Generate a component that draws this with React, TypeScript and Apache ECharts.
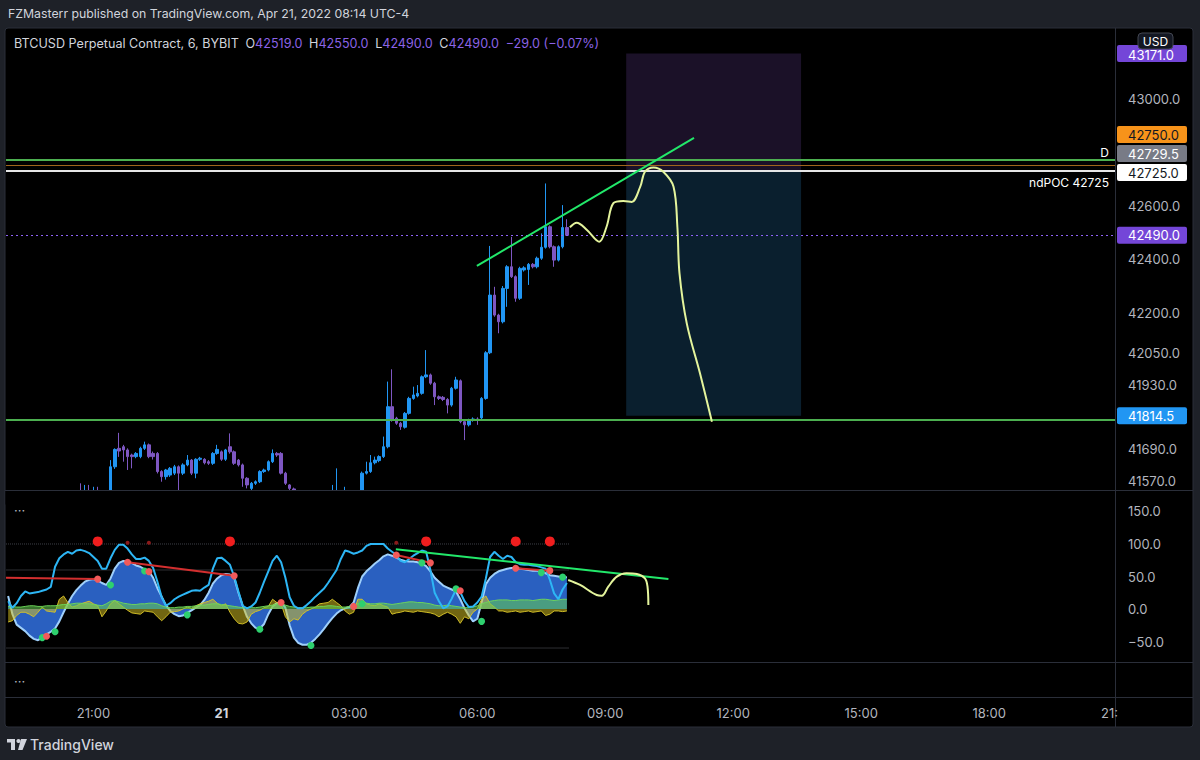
import React, { useEffect, useRef } from "react";
import * as echarts from "echarts";

const FONT = 'Inter, "Noto Sans", sans-serif';
const BG = "#1e2128";
const UP = "#2196f3";
const DOWN = "#7e57c2";
const TEXT = "#d1d4dc";
const AXIS_TEXT = "#b2b5be";
const SEP = "#2a2e39";

// ---- time axis ----
const categoryCount = 260;
const startMinutes = 19 * 60;
const stepMinutes = 6;
const timeTickIndex = [20, 50, 80, 110, 140, 170, 200, 230];
const timeTickLabels = ["21:00", "21", "03:00", "06:00", "09:00", "12:00", "15:00", "18:00"];

// ---- price axis ----
const priceMin = 41536;
const priceMax = 43255;
const priceTicks = [43000, 42600, 42400, 42200, 42050, 41930, 41690, 41570];
const oscMin = -81.5;
const oscMax = 181.5;
const oscTicks = [150, 100, 50, 0, -50];

// ---- candles (first index = candleStart) ----
const candleStart = 17;
const opens = [41515,41508,41520,41512,41518,41510,41505,41520,41623,41692,41698,41686,41667,41661,41661,41692,41705,41673,41673,41605,41586,41592,41599,41623,41599,41630,41648,41599,41651,41651,41642,41636,41673,41679,41651,41698,41679,41648,41630,41580,41542,41561,41567,41605,41611,41642,41673,41673,41599,41555,41540,41525,41515,41505,41500,41495,41500,41505,41510,41515,41520,41525,41515,41520,41510,41515,41522,41599,41605,41638,41646,41661,41698,41848,41805,41786,41771,41823,41879,41888,41898,41960,41967,41936,41885,41883,41875,41854,41917,41945,41792,41780,41798,41802,41806,41879,42050,42266,42191,42166,42291,42372,42335,42254,42360,42362,42381,42372,42404,42445,42522,42447,42397,42447,42519];
const closes = [41508,41520,41512,41518,41510,41505,41520,41623,41688,41682,41686,41661,41661,41673,41692,41705,41661,41661,41605,41586,41611,41617,41623,41599,41630,41648,41599,41651,41655,41638,41636,41673,41688,41651,41686,41679,41636,41630,41580,41555,41561,41567,41605,41611,41642,41673,41667,41599,41561,41542,41525,41515,41505,41500,41495,41500,41505,41510,41515,41520,41525,41515,41520,41510,41515,41522,41599,41605,41638,41648,41661,41698,41848,41798,41786,41773,41823,41879,41892,41898,41960,41967,41936,41885,41879,41875,41854,41917,41948,41792,41780,41798,41802,41798,41879,42050,42266,42191,42166,42291,42372,42335,42254,42366,42368,42381,42372,42404,42445,42522,42447,42397,42447,42519,42490];
const lows = [41495,41500,41500,41505,41498,41490,41495,41515,41615,41660,41642,41611,41617,41655,41655,41686,41655,41650,41598,41567,41575,41585,41592,41536,41592,41625,41592,41580,41645,41632,41630,41630,41668,41645,41645,41672,41630,41624,41548,41542,41536,41555,41562,41600,41606,41637,41660,41594,41555,41520,41510,41500,41490,41485,41480,41482,41490,41495,41500,41505,41510,41505,41505,41500,41500,41505,41515,41594,41600,41632,41640,41656,41692,41792,41780,41761,41766,41818,41874,41883,41893,41955,41930,41854,41873,41869,41823,41848,41912,41786,41723,41774,41792,41780,41800,41874,42045,42185,42123,42160,42222,42330,42241,42248,42354,42304,42366,42366,42398,42440,42441,42372,42392,42441,42490];
const highs = [41561,41555,41555,41548,41548,41525,41530,41648,41692,41750,41705,41692,41672,41678,41698,41717,41710,41680,41678,41610,41615,41622,41630,41628,41636,41667,41652,41655,41660,41655,41648,41678,41705,41684,41690,41748,41684,41652,41635,41584,41566,41572,41610,41616,41647,41688,41678,41678,41604,41558,41545,41530,41520,41512,41508,41510,41515,41520,41530,41555,41617,41532,41548,41530,41528,41534,41605,41642,41667,41661,41666,41736,41942,41988,41810,41791,41828,41885,41923,41929,41965,42060,41972,41941,41890,41888,41880,41922,41960,41950,41797,41803,41808,41808,41884,42056,42450,42297,42196,42300,42378,42484,42340,42372,42374,42386,42386,42410,42497,42684,42527,42452,42452,42603,42550];

// ---- level lines / drawings in price pane ----
const greenLevels = [42771, 41798];
const orangeLevels = [42753];
const pocLevels = [42730];
const lastPrice = 42490;
const positionStop = 43171;
const positionEntry = 42729.5;
const positionTarget = 41814.5;
const positionFromIdx = 144.9;
const positionToIdx = 185.9;
const trendUp = [[109.9, 42375], [160.8, 42855]];
const projection = [[131.7, 42520], [133.3, 42537], [135.7, 42510], [138.6, 42466], [140.3, 42522], [141.9, 42610], [144.2, 42618], [146.2, 42615], [148.2, 42672], [149.3, 42728], [151.3, 42744], [153.6, 42728], [156.0, 42672], [156.9, 42522], [157.4, 42347], [159.1, 42160], [162.2, 41973], [165.0, 41792]];

// ---- oscillator pane ----
const cyanWave = [12,2,9,20,27,24,25,26,28,30,34,65,78,84,88,85,90,91,89,86,80,74,62,62,78,91,99,99,93,84,77,77,79,74,63,42,18,5,9,15,19,22,25,28,29,28,33,37,62,78,79,74,68,50,27,5,1,4,10,25,42,58,74,82,72,48,18,5,1,1,6,12,19,25,31,40,50,60,77,90,88,85,87,90,97,100,100,100,100,93,88,83,74,72,77,82,86,90,88,60,25,12,1,4,16,30,26,12,3,4,10,19,47,80,88,82,77,82,80,72,69,68,68,67,66,64,62,45,24,15,30,40];
const blueWave = [20,-8,-24,-29,-34,-41,-46,-48,-44,-39,-35,-30,-19,-5,8,20,29,36,42,45,46,44,40,37,47,62,71,74,73,71,67,65,61,58,48,32,19,6,-3,-8,-11,-10,-6,-2,2,6,14,25,39,47,52,54,53,48,25,5,-12,-22,-29,-30,-23,-8,4,9,11,2,-25,-44,-52,-55,-55,-52,-46,-39,-31,-22,-14,-7,-2,1,3,10,32,50,58,64,70,75,81,84,82,79,76,74,73,73,72,70,66,58,48,42,36,33,30,27,15,1,-10,-19,-15,10,38,48,54,58,60,62,63,63,62,61,60,59,59,59,55,52,51,50,49,49];
const flowYellow = [-20,-18,-10,-5,-5,-8,-12,-5,3,-3,-4,-5,15,20,10,3,5,8,10,12,8,5,-12,-3,8,13,8,3,-2,-6,-7,-8,-3,-4,-5,-12,-18,-12,-5,-4,-3,0,3,1,5,8,10,12,15,9,5,8,-5,-15,-22,-23,-20,-8,-4,-2,2,4,15,10,8,-12,-20,-15,-17,-8,-3,0,3,8,9,10,15,10,5,-3,-8,-5,15,15,8,6,5,8,5,3,-8,-6,-5,-3,-4,-5,-3,-4,-5,-6,-8,-12,-8,-5,-8,-12,-22,-12,-15,-5,0,15,20,8,3,-3,-3,-5,-4,-3,-5,-4,-3,-5,-4,-3,-10,-8,-3,-3,-4,-3];
const flowGreen = [4,4,3,3,4,5,5,4,4,5,5,5,6,7,7,8,9,9,8,8,7,6,5,8,12,13,11,9,8,7,7,8,8,9,9,8,5,3,2,2,3,3,4,4,5,6,6,7,8,8,7,6,5,4,3,2,2,2,2,3,4,5,6,8,8,6,4,3,2,2,2,3,3,4,4,5,5,4,3,3,4,6,8,9,9,8,8,9,9,8,7,8,9,10,11,11,10,10,9,8,6,5,5,6,5,4,3,2,2,3,5,8,10,12,13,14,14,14,13,13,14,14,14,13,14,15,15,14,13,14,15,15];
const greenDots = [[8, -44], [11, -35], [24, 37], [32, 58.5], [42, -9], [59, -31], [71, -56], [83, 8], [97, 71], [105, 31], [111, -19], [125, 56], [130, 49]];
const redDots = [[9, -42], [21, 46], [28, 72], [33, 57.5], [53, 51], [64, 10], [81, 4], [91, 83], [99, 71], [106, 28], [119, 62.6], [127, 59]];
const bigRedDots = [[21, 104], [52, 104], [98, 104], [119, 104], [127, 104]];
const smallRedDots = [[28, 102], [33, 102], [91, 102]];
const oscDottedLevels = [100];
const oscSolidLevels = [60, -60];
const oscDataEnd = 131.5;
const oscRedTrends = [
  [[-0.5, 48], [21, 46]],
  [[28, 72], [53, 51]],
  [[91, 83], [99, 71]],
  [[119, 62.6], [127, 59]],
];
const oscGreenTrend = [[90.9, 92], [154.8, 46]];
const oscProjection = [[131.3, 44.6], [134.1, 37], [138, 21.5], [139.2, 20.5], [140.7, 34.4], [142.7, 49.8], [145, 54.9], [147.4, 53.9], [149.3, 47.2], [149.9, 34.4], [150.1, 6.2]];

// ---- axis price labels ----
const priceBoxes = [
  { value: 43171, bg: "#7446d8", fg: "#ffffff" },
  { value: 42750, bg: "#f7931a", fg: "#131722" },
  { value: 42729.5, bg: "#787b86", fg: "#ffffff" },
  { value: 42725, bg: "#ffffff", fg: "#131722" },
  { value: 42490, bg: "#7446d8", fg: "#ffffff" },
  { value: 41814.5, bg: "#2196f3", fg: "#ffffff" },
];

const pad = (n: number) => (n < 10 ? "0" + n : "" + n);
const categories = Array.from({ length: categoryCount }, (_, i) => {
  const m = (startMinutes + i * stepMinutes) % 1440;
  return pad(Math.floor(m / 60)) + ":" + pad(m % 60);
});

const candleData = Array.from({ length: candleStart + opens.length }, (_, i) =>
  i < candleStart
    ? ["-", "-", "-", "-"]
    : [opens[i - candleStart], closes[i - candleStart], lows[i - candleStart], highs[i - candleStart]]
);
const idx = (arr: number[]) => arr.map((v, i) => [i, v]);

const lineSeries = (data: any, xAxisIndex: number, yAxisIndex: number, lineStyle: any, extra: any = {}) => ({
  type: "line",
  xAxisIndex,
  yAxisIndex,
  data,
  symbol: "none",
  silent: true,
  lineStyle,
  ...extra,
});

function buildOption() {
  const series: any[] = [];
  // position box
  series.push(
    lineSeries([[positionFromIdx, positionStop]], 1, 0, { opacity: 0, width: 0 }, {
      z: 1,
      markArea: {
        silent: true,
        data: [
          [
            { coord: [positionFromIdx, positionStop], itemStyle: { color: "rgba(135,85,200,0.2)" } },
            { coord: [positionToIdx, positionEntry] },
          ],
          [
            { coord: [positionFromIdx, positionEntry], itemStyle: { color: "rgba(56,172,255,0.18)" } },
            { coord: [positionToIdx, positionTarget] },
          ],
        ],
      },
    })
  );
  series.push({
    type: "candlestick",
    xAxisIndex: 0,
    yAxisIndex: 0,
    data: candleData,
    barWidth: 3,
    clip: true,
    z: 3,
    itemStyle: { color: UP, color0: DOWN, borderColor: UP, borderColor0: DOWN, borderWidth: 1 },
    markLine: {
      symbol: "none",
      silent: true,
      data: [
        ...greenLevels.map((v, k) => ({
          yAxis: v,
          lineStyle: { color: "#4caf50", width: 2, type: "solid" },
          label: k === 0
            ? { show: true, formatter: "D", position: "insideEndTop", color: "#ffffff", fontSize: 12, fontFamily: FONT, distance: [6, 2] }
            : { show: false },
        })),
        ...orangeLevels.map((v) => ({ yAxis: v, lineStyle: { color: "#a0651c", width: 1, type: "solid" }, label: { show: false } })),
        ...pocLevels.map((v) => ({
          yAxis: v,
          lineStyle: { color: "#e6e6e6", width: 2, type: "solid" },
          label: { show: true, formatter: "ndPOC 42725", position: "insideEndBottom", color: "#ffffff", fontSize: 12, fontFamily: FONT, distance: [6, 5] },
        })),
        { yAxis: lastPrice, lineStyle: { color: "#8f62f5", width: 1, type: [2, 3], opacity: 1 }, label: { show: false } },
      ],
    },
  });
  series.push(lineSeries(trendUp, 1, 0, { color: "#22e86a", width: 2 }, { z: 6 }));
  series.push(lineSeries(projection, 1, 0, { color: "#e4f49c", width: 2 }, { z: 6, smooth: 0.35 }));

  // oscillator
  oscSolidLevels.forEach((v) =>
    series.push(lineSeries([[-0.5, v], [oscDataEnd, v]], 2, 1, { color: "#2e2f33", width: 1 }, { z: 1 }))
  );
  oscDottedLevels.forEach((v) =>
    series.push(lineSeries([[-0.5, v], [oscDataEnd, v]], 2, 1, { color: "#3d3f46", width: 1, type: "dotted" }, { z: 1 }))
  );
  series.push(lineSeries(idx(blueWave), 2, 1, { color: "#9fd0fb", width: 2 }, { z: 2, areaStyle: { color: "#2a60c0", opacity: 1 } }));
  series.push(lineSeries(idx(flowYellow), 2, 1, { color: "rgba(215,195,40,0.95)", width: 1 }, { z: 3, areaStyle: { color: "rgba(215,195,35,0.75)" } }));
  series.push(lineSeries(idx(flowGreen), 2, 1, { color: "rgba(110,215,90,0.95)", width: 1 }, { z: 4, areaStyle: { color: "rgba(100,205,80,0.8)" } }));
  series.push(lineSeries(idx(cyanWave), 2, 1, { color: "#2db6f5", width: 2 }, { z: 5 }));
  oscRedTrends.forEach((seg) => series.push(lineSeries(seg, 2, 1, { color: "#d32f2f", width: 2 }, { z: 6 })));
  series.push(lineSeries(oscGreenTrend, 2, 1, { color: "#22e86a", width: 2 }, { z: 6 }));
  series.push(lineSeries(oscProjection, 2, 1, { color: "#e4f49c", width: 2 }, { z: 6, smooth: 0.35 }));
  const scatter = (data: number[][], color: string, size: number) => ({
    type: "scatter",
    xAxisIndex: 2,
    yAxisIndex: 1,
    data,
    symbolSize: size,
    silent: true,
    z: 8,
    itemStyle: { color, opacity: 1 },
  });
  series.push(scatter(greenDots, "#2ed06e", 7));
  series.push(scatter(redDots, "#f25a5a", 7));
  series.push(scatter(bigRedDots, "#f01e1e", 10));
  series.push(scatter(smallRedDots, "#8a1a1a", 4));

  const hiddenValueX = (gridIndex: number) => ({
    type: "value",
    gridIndex,
    min: -0.5,
    max: categoryCount - 0.5,
    show: false,
  });

  return {
    animation: false,
    backgroundColor: BG,
    textStyle: { fontFamily: FONT },
    grid: [
      { left: 6, top: 31, width: 1109, height: 459 },
      { left: 6, top: 491, width: 1109, height: 171 },
      { left: 6, top: 663, width: 1109, height: 34 },
    ],
    xAxis: [
      { type: "category", gridIndex: 0, data: categories, boundaryGap: true, show: false },
      hiddenValueX(0),
      hiddenValueX(1),
      {
        type: "category",
        gridIndex: 2,
        data: categories,
        boundaryGap: true,
        axisLine: { show: false },
        axisTick: { show: false },
        splitLine: { show: false },
        axisLabel: {
          interval: (i: number) => timeTickIndex.indexOf(i) >= 0,
          formatter: (_v: string, i: number) => {
            const k = timeTickIndex.indexOf(i);
            const t = k >= 0 ? timeTickLabels[k] : "";
            return t.indexOf(":") < 0 ? "{b|" + t + "}" : t;
          },
          color: AXIS_TEXT,
          fontSize: 13,
          fontFamily: FONT,
          margin: 9,
          rich: { b: { fontWeight: "bold", color: TEXT, fontSize: 13, fontFamily: FONT } },
        },
      },
    ],
    yAxis: [
      {
        type: "value",
        gridIndex: 0,
        position: "right",
        min: priceMin,
        max: priceMax,
        axisLine: { show: false },
        axisTick: { show: false },
        splitLine: { show: false },
        axisLabel: {
          customValues: priceTicks,
          formatter: (v: number) => v.toFixed(1),
          color: AXIS_TEXT,
          fontSize: 13,
          fontFamily: FONT,
          margin: 13,
        },
      },
      {
        type: "value",
        gridIndex: 1,
        position: "right",
        min: oscMin,
        max: oscMax,
        axisLine: { show: false },
        axisTick: { show: false },
        splitLine: { show: false },
        axisLabel: {
          customValues: oscTicks,
          formatter: (v: number) => v.toFixed(1).replace("-", "\u2212"),
          color: AXIS_TEXT,
          fontSize: 13,
          fontFamily: FONT,
          margin: 13,
        },
      },
      { type: "value", gridIndex: 2, show: false, min: 0, max: 1 },
    ],
    series,
  };
}

function buildGraphic(chart: any) {
  const g: any[] = [];
  g.push({ type: "rect", z: -10, silent: true, shape: { x: 5, y: 28, width: 1188, height: 699, r: 3 }, style: { fill: "#000000", stroke: SEP, lineWidth: 1 } });
  // mask: candles whose bodies sit below the price pane
  g.push({ type: "rect", z: 10, silent: true, shape: { x: 5.5, y: 490.5, width: 1109.5, height: 14 }, style: { fill: "#000000" } });
  [490.5, 662.5, 697.5].forEach((y) =>
    g.push({ type: "line", z: 20, silent: true, shape: { x1: 5, y1: y, x2: 1193, y2: y }, style: { stroke: SEP, lineWidth: 1 } })
  );
  g.push({ type: "line", z: 20, silent: true, shape: { x1: 1115.5, y1: 28, x2: 1115.5, y2: 727 }, style: { stroke: SEP, lineWidth: 1 } });

  // header
  g.push({
    type: "text", z: 30, x: 8, y: 13,
    style: { text: "FZMasterr published on TradingView.com, Apr 21, 2022 08:14 UTC-4", fill: TEXT, fontSize: 12.3, fontFamily: FONT, verticalAlign: "middle" },
  });
  const last = opens.length - 1;
  const chg = closes[last] - closes[last - 1];
  const pct = (chg / closes[last - 1]) * 100;
  const neg = (n: number, d: number) => (n < 0 ? "\u2212" : "") + Math.abs(n).toFixed(d);
  const purple = "#8b63e6";
  const fs = 12.6;
  g.push({
    type: "text", z: 30, x: 14, y: 43,
    style: {
      text:
        "{t|BTCUSD Perpetual Contract, 6, BYBIT}  {k|O}{v|" + opens[last].toFixed(1) + "}  {k|H}{v|" + highs[last].toFixed(1) +
        "}  {k|L}{v|" + lows[last].toFixed(1) + "}  {k|C}{v|" + closes[last].toFixed(1) + "}  {v|" + neg(chg, 1) + " (" + neg(pct, 2) + "%)}",
      verticalAlign: "middle",
      rich: {
        t: { fill: TEXT, fontSize: fs, fontFamily: FONT },
        k: { fill: TEXT, fontSize: fs, fontFamily: FONT },
        v: { fill: purple, fontSize: fs, fontFamily: FONT },
      },
    },
  });
  g.push({ type: "text", z: 30, x: 14, y: 510, style: { text: "\u00b7\u00b7\u00b7", fill: AXIS_TEXT, fontSize: 13, fontFamily: FONT, verticalAlign: "middle" } });
  g.push({ type: "text", z: 30, x: 14, y: 681, style: { text: "\u00b7\u00b7\u00b7", fill: AXIS_TEXT, fontSize: 13, fontFamily: FONT, verticalAlign: "middle" } });
  g.push({ type: "text", z: 30, x: 1101, y: 712.5, style: { text: "21:", fill: AXIS_TEXT, fontSize: 13, fontFamily: FONT, verticalAlign: "middle" } });

  // price boxes with collision handling
  const boxes = priceBoxes.map((b) => ({ ...b, y: chart.convertToPixel({ yAxisIndex: 0 }, b.value) as number }));
  boxes.sort((a, b) => b.y - a.y);
  for (let k = 1; k < boxes.length; k++) {
    if (boxes[k - 1].y - boxes[k].y < 19) boxes[k].y = boxes[k - 1].y - 19;
  }
  boxes.forEach((b) => {
    g.push({ type: "rect", z: 40, silent: true, shape: { x: 1117, y: b.y - 8.5, width: 70, height: 17, r: 2 }, style: { fill: b.bg } });
    g.push({ type: "text", z: 41, x: 1128, y: b.y + (b.value === 43171 ? 2 : 0), style: { text: b.value.toFixed(1), fill: b.fg, fontSize: 13, fontFamily: FONT, verticalAlign: "middle" } });
  });
  g.push({ type: "rect", z: 42, shape: { x: 1138, y: 33, width: 35, height: 16, r: 4 }, style: { fill: "#131722", stroke: "#434651", lineWidth: 1 } });
  g.push({ type: "text", z: 43, x: 1155.5, y: 41, style: { text: "USD", fill: "#ffffff", fontSize: 12, fontFamily: FONT, align: "center", verticalAlign: "middle" } });

  // footer
  g.push({ type: "rect", z: 30, shape: { x: 7, y: 739, width: 8, height: 3.5 }, style: { fill: TEXT } });
  g.push({ type: "rect", z: 30, shape: { x: 11, y: 739, width: 4, height: 11 }, style: { fill: TEXT } });
  g.push({ type: "circle", z: 30, shape: { cx: 18.5, cy: 741, r: 2.1 }, style: { fill: TEXT } });
  g.push({ type: "polygon", z: 30, shape: { points: [[21, 739], [27, 739], [22.5, 750], [18, 750]] }, style: { fill: TEXT } });
  g.push({ type: "text", z: 30, x: 30, y: 744.5, style: { text: "TradingView", fill: TEXT, fontSize: 14, fontWeight: 500, fontFamily: FONT, verticalAlign: "middle" } });
  return g;
}

export default function App() {
  const ref = useRef<HTMLDivElement>(null);
  useEffect(() => {
    document.body.style.margin = "0";
    document.body.style.background = BG;
    const chart = echarts.init(ref.current as HTMLDivElement, undefined, { renderer: "svg" });
    chart.setOption(buildOption() as any);
    chart.setOption({ graphic: buildGraphic(chart) } as any);
    return () => chart.dispose();
  }, []);
  return <div ref={ref} style={{ width: 1200, height: 760 }} />;
}
